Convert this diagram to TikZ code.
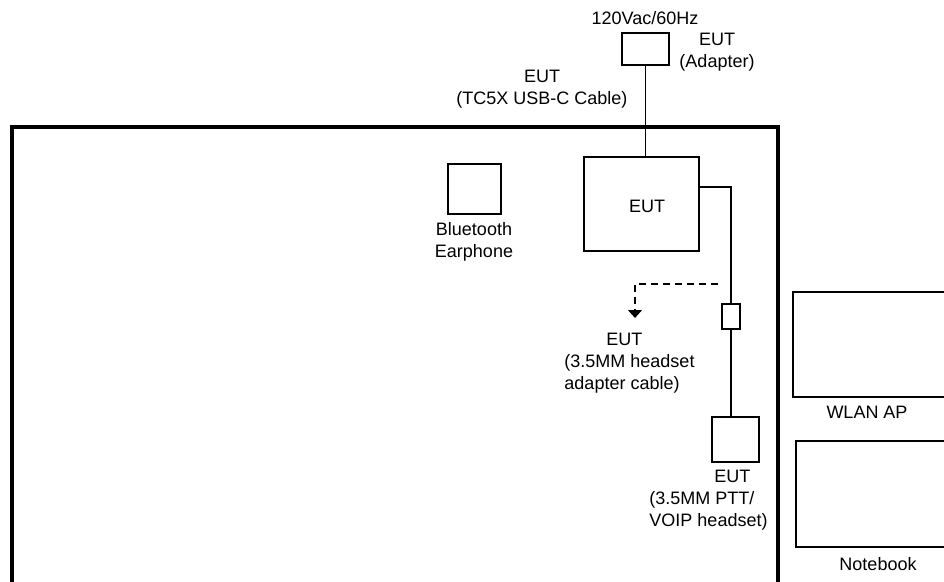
\documentclass[tikz,border=0pt]{standalone}
\usepackage{fontspec}
\setmainfont{Liberation Sans}
\usepackage{tikz}
\usetikzlibrary{arrows.meta}

\begin{document}
\begin{tikzpicture}[x=1pt, y=-1pt,
    unit/.style={draw, line width=1.2pt, inner sep=0pt, outer sep=0pt},
    lbl/.style={align=center, font=\fontsize{18}{22}\selectfont, inner sep=0pt},
    cable/.style={line width=1.2pt}]
    \useasboundingbox (0,0) rectangle (944,581);
    \clip (0,0) rectangle (944,581);
    % test table outline
    \draw[line width=4pt] (12,600) -- (12,127) -- (778,127) -- (778,600);
    % adapter and mains
    \node[unit, minimum width=47pt, minimum height=32pt] (adapter) at (645.5,49) {};
    \node[lbl] (mains) at (645,18) {120Vac/60Hz};
    \node[lbl] (adapterlbl) at (717,52) {EUT\\(Adapter)};
    \node[lbl] (usblbl) at (542,89) {EUT\\(TC5X USB-C Cable)};
    % EUT
    \node[unit, minimum width=115pt, minimum height=94pt] (eut) at (641.5,204) {};
    \node[lbl] (eutlbl) at (647,206) {EUT};
    % bluetooth earphone
    \node[unit, minimum width=53pt, minimum height=50pt] (bt) at (474.5,189) {};
    \node[lbl] (btlbl) at (474,242) {Bluetooth\\Earphone};
    % headset adapter cable and headset
    \node[unit, minimum width=18pt, minimum height=25pt] (jack) at (731,316.5) {};
    \node[unit, minimum width=47pt, minimum height=45pt] (headset) at (735.5,439.5) {};
    \node[lbl, align=left] (jacklbl) at (629.5,363) {\hspace*{42pt}EUT\\(3.5MM headset\\adapter cable)};
    \node[lbl, align=left] (headsetlbl) at (708.5,500) {\hspace*{65pt}EUT\\(3.5MM PTT/\\VOIP headset)};
    % support units
    \node[unit, minimum width=157pt, minimum height=105pt] (wlan) at (871.5,344.5) {};
    \node[lbl] (wlanlbl) at (867,412) {WLAN AP};
    \node[unit, minimum width=154pt, minimum height=106pt] (notebook) at (873,494) {};
    \node[lbl] (notebooklbl) at (878,564) {Notebook};
    % cables
    \draw[cable] (adapter.south) -- (adapter.south |- eut.north);
    \draw[cable] ([yshift=17pt]eut.east) -| (jack.north);
    \draw[cable] (jack.south) -- (jack.south |- headset.north);
    \coordinate (dashstart) at (718,284);
    \coordinate (dashend) at (635,318);
    \draw[cable, dash pattern=on 7pt off 5pt, -{Triangle[width=14pt, length=8pt]}] (dashstart) -| (dashend);
\end{tikzpicture}
\end{document}
